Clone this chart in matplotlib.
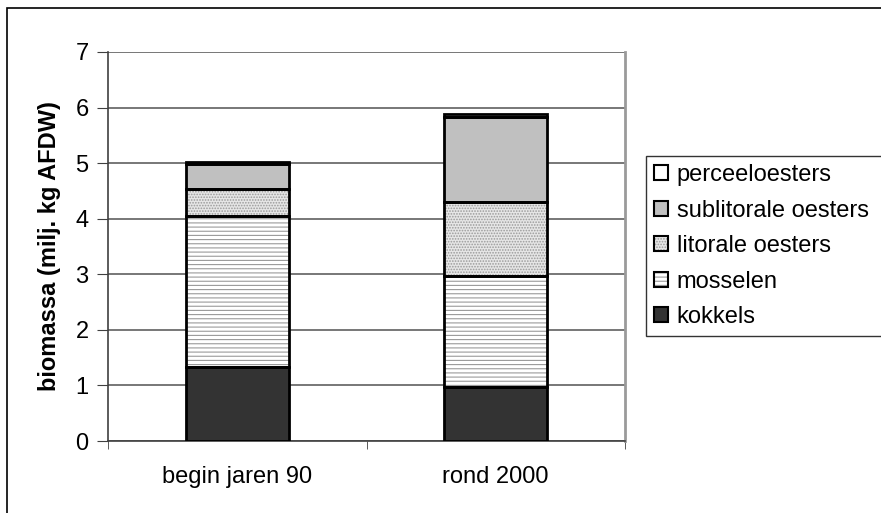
import matplotlib
matplotlib.use("Agg")
import matplotlib.pyplot as plt
from matplotlib.patches import Rectangle
from matplotlib.legend_handler import HandlerTuple
import numpy as np

plt.rcParams['font.family'] = ['Liberation Sans', 'DejaVu Sans']
plt.rcParams['hatch.linewidth'] = 0.8

# Data
periods = ["begin jaren 90", "rond 2000"]
kokkels = [1.33, 0.97]
mosselen = [2.72, 2.00]
litorale = [0.48, 1.33]
sublitorale = [0.45, 1.53]
perceel = [0.04, 0.05]

# name, values, face colour, hatch, hatch colour
series = [
    ("kokkels", kokkels, "#333333", None, None),
    ("mosselen", mosselen, "white", "----", "#9a9a9a"),
    ("litorale oesters", litorale, "#e6e6e6", "......", "#9a9a9a"),
    ("sublitorale oesters", sublitorale, "#c0c0c0", None, None),
    ("perceeloesters", perceel, "white", None, None),
]

W, H = 881, 513
fig = plt.figure(figsize=(W / 100, H / 100), dpi=100)

# outer chart border (left and top only, the rest is cropped)
fig.patches.append(Rectangle((7 / W, -0.1), 1.2, (H - 8) / H + 0.1, transform=fig.transFigure,
                             fill=False, edgecolor="black", linewidth=1.2))

ax = fig.add_axes([108 / W, 72 / H, (625 - 108) / W, (441 - 52) / H])

x = np.arange(len(periods))
bottom = np.zeros(len(periods))
handles = []
for name, vals, fc, hatch, hc in series:
    vals = np.array(vals)
    ax.bar(x, vals, 0.4, bottom=bottom, color=fc, hatch=hatch,
           edgecolor=hc if hatch else fc, linewidth=0, zorder=3)
    ax.bar(x, vals, 0.4, bottom=bottom, fill=False, edgecolor="black",
           linewidth=2, zorder=4)
    h1 = Rectangle((0, 0), 1, 1, facecolor=fc, hatch=hatch,
                   edgecolor=hc if hatch else fc, linewidth=0)
    h2 = Rectangle((0, 0), 1, 1, fill=False, edgecolor="black", linewidth=1.5)
    handles.append(((h1, h2), name))
    bottom = bottom + vals

ax.set_xlim(-0.5, 1.5)
ax.set_ylim(0, 7)
ax.set_yticks(range(0, 8))
ax.set_xticks(x)
ax.set_xticklabels(periods, fontsize=17)
ax.set_xticks([-0.5, 0.5, 1.5], minor=True)
ax.tick_params(axis="x", which="major", length=0, pad=18)
ax.tick_params(axis="x", which="minor", length=6, color="#404040", direction="out")
ax.tick_params(axis="y", labelsize=17, length=8, color="#404040", pad=6)
ax.yaxis.grid(True, color="#606060", linewidth=1.2, zorder=0)
ax.set_axisbelow(True)
for s in ["left", "bottom"]:
    ax.spines[s].set_color("#404040")
    ax.spines[s].set_linewidth(1.2)
ax.spines["top"].set_visible(False)
ax.spines["right"].set_color("#9a9a9a")
ax.spines["right"].set_linewidth(2)

ax.set_ylabel("biomassa (milj. kg AFDW)", fontsize=17, fontweight="bold", labelpad=10)

hs = [h for h, _ in handles][::-1]
ls = [l for _, l in handles][::-1]
leg = fig.legend(hs, ls, handler_map={tuple: HandlerTuple(ndivide=1)},
                 loc="upper left",
                 bbox_to_anchor=(646 / W, (H - 336) / H, (884 - 646) / W, 180 / H),
                 mode="expand", borderaxespad=0, fontsize=17, frameon=True,
                 fancybox=False, edgecolor="black", handlelength=0.6, handleheight=0.6,
                 handletextpad=0.35, labelspacing=0.57, borderpad=0.35)
leg.get_frame().set_linewidth(1.0)

fig.savefig("out.png", dpi=100)
